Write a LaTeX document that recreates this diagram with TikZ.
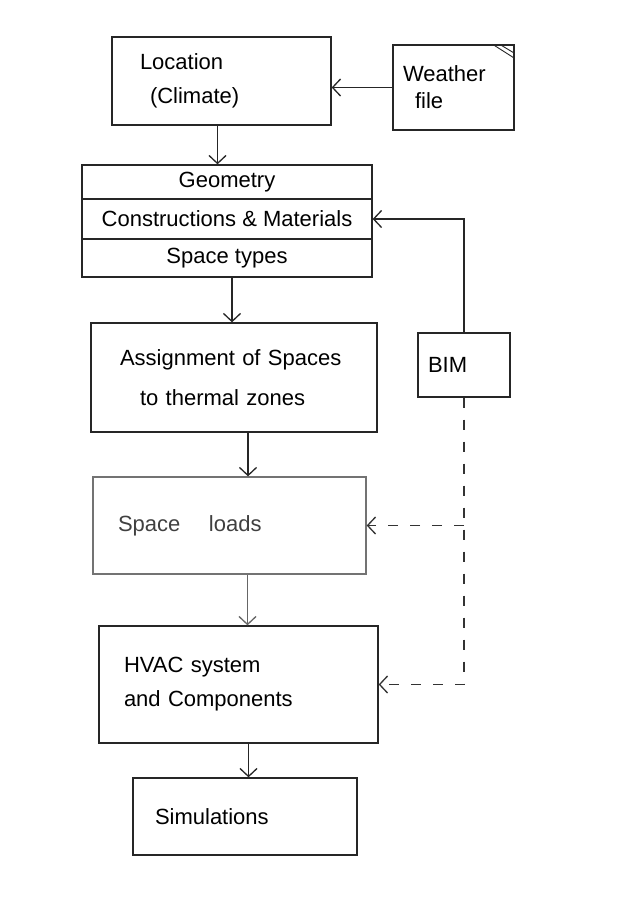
\documentclass[tikz,border=0pt]{standalone}
\usepackage{fontspec}
\setmainfont{Liberation Sans}
\usetikzlibrary{arrows.meta}
\begin{document}
\begin{tikzpicture}[x=1pt, y=-1pt, >={Straight Barb[length=8pt,width=17pt]},
  font=\fontsize{22}{34}\selectfont, line width=1.3pt,
  box/.style={draw=black!85, align=left, inner ysep=0pt},
  row/.style={draw=black!85, minimum width=290pt, align=center, inner sep=0pt},
  flow/.style={->, draw=black!85},
  link/.style={draw=black!80, dash pattern=on 10pt off 12pt}]
  \useasboundingbox (0,0) rectangle (620,924);
  % 顶部：地点与天气文件
  \node[box, minimum height=88pt, inner xsep=28pt, text width=163pt] (loc) at (221.5,81) {Location\\\hspace{10pt}(Climate)};
  \node[box, minimum height=85pt, inner xsep=10pt, text width=101pt, font=\fontsize{22}{27}\selectfont] (weather) at (453.5,87.5) {Weather\\\hspace{12pt}file};
  \draw[draw=black!85, line width=0.9pt] ([xshift=-22pt]weather.north east) -- ([yshift=-14pt]weather.north east)
    ([xshift=-15pt]weather.north east) -- ([yshift=-9pt]weather.north east);
  % 模型三栏
  \node[row, minimum height=34pt] (geom) at (227,182) {Geometry};
  \node[row, minimum height=40pt] (constr) at (227,219) {Constructions \& Materials};
  \node[row, minimum height=38pt] (spct) at (227,258) {Space types};
  % 中部：热区、BIM
  \node[box, minimum height=109pt, inner xsep=25pt, text width=236pt, font=\fontsize{22}{40}\selectfont] (assign) at (234,377.5) {\hspace{4pt}Assignment of Spaces\\\hspace{24pt}to thermal zones};
  \node[box, minimum height=64pt, inner xsep=10pt, text width=72pt] (bim) at (464,365) {BIM};
  % 下部：负荷、系统、模拟
  \node[box, draw=black!55, text=black!75, minimum height=97pt, inner xsep=25pt, text width=223pt] (loads) at (229.5,525.5) {Space\hspace{1.3em}loads};
  \node[box, minimum height=117pt, inner xsep=25pt, text width=229pt] (hvac) at (238.5,684.5) {HVAC system\\and Components};
  \node[box, minimum height=77pt, inner xsep=22pt, text width=180pt] (sim) at (245,816.5) {Simulations};
  % 主流程箭头
  \draw[flow] (weather.west) -- (weather.west -| loc.east);
  \draw[flow] ([xshift=-4pt]loc.south) -- ([xshift=-4pt]loc.south |- geom.north);
  \draw[flow] ([xshift=5pt]spct.south) -- ([xshift=5pt]spct.south |- assign.north);
  \draw[flow] ([xshift=14pt]assign.south) -- ([xshift=14pt]assign.south |- loads.north);
  \draw[flow, draw=black!60] ([xshift=18pt]loads.south) -- ([xshift=18pt]loads.south |- hvac.north);
  \draw[flow] ([xshift=10pt]hvac.south) -- ([xshift=10pt]hvac.south |- sim.north);
  % BIM 连线
  \draw[flow] (bim.north) |- (constr.east);
  \coordinate (tap) at (bim.south |- loads.east);
  \draw[link, ->] (bim.south) |- (hvac.east);
  \draw[link, ->] (tap) -- (loads.east);
\end{tikzpicture}
\end{document}
